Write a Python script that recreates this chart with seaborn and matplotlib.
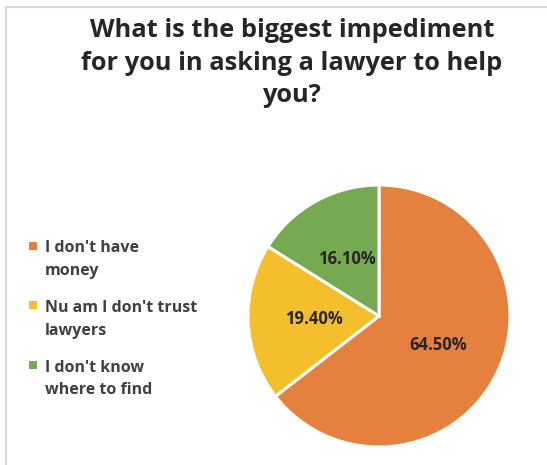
import matplotlib
matplotlib.use("Agg")
import matplotlib.pyplot as plt
import seaborn as sns
from matplotlib.patches import Patch, Rectangle
from matplotlib.lines import Line2D
from matplotlib.legend_handler import HandlerPatch

categories = ["I don't have\nmoney", "Nu am I don't trust\nlawyers", "I don't know\nwhere to find"]
values = [64.5, 19.4, 16.1]
colors = ["#E6803F", "#F5BE2D", "#75AA52"]
title = "What is the biggest impediment\nfor you in asking a lawyer to help\nyou?"

sns.set_theme(style="white")
plt.rcParams['font.family'] = ['Open Sans', 'DejaVu Sans']

fig = plt.figure(figsize=(5.47, 4.65), dpi=100)
W, H = 547, 465
r = 131
cx, cy = 379, 316
ax = fig.add_axes([(cx - r) / W, 1 - (cy + r) / H, 2 * r / W, 2 * r / H])
wedges, texts, autotexts = ax.pie(
    values, colors=colors, startangle=90, counterclock=False,
    autopct=lambda p: f"{p:.2f}%", pctdistance=0.5,
    wedgeprops=dict(edgecolor="white", linewidth=2.2),
    textprops=dict(fontsize=12, fontweight="bold", color="#262626"),
    radius=1.0,
)
ax.set_xlim(-1.0, 1.0)
ax.set_ylim(-1.0, 1.0)
ax.set_aspect("equal")

fig.text(292 / W, 1 - 63 / H, title, ha="center", va="center",
         fontsize=18.3, fontweight="bold", color="#262626", linespacing=1.4)


def top_square(legend, orig_handle, xdescent, ydescent, width, height, fontsize):
    s = 0.5 * fontsize
    return Rectangle((-xdescent + width - s, -ydescent + height - s + 0.3 * fontsize), s, s)


handles = [Patch(facecolor=c, edgecolor="none") for c in colors]
leg = fig.legend(handles, categories, loc="upper left",
                 bbox_to_anchor=(15 / W, 1 - 226 / H), frameon=False,
                 handlelength=0.5, handleheight=2.4,
                 handletextpad=0.45, labelspacing=1.32,
                 prop=dict(weight="bold", size=11.5),
                 handler_map={Patch: HandlerPatch(patch_func=top_square)})
for t in leg.get_texts():
    t.set_color("#404040")
    t.set_linespacing(1.55)

fig.add_artist(Line2D([6 / W, 6 / W], [0, 1 - 7 / H], color="#D9D9D9", lw=1.5))
fig.add_artist(Line2D([6 / W, 1], [1 - 7 / H, 1 - 7 / H], color="#D9D9D9", lw=1.5))

fig.savefig("out.png", dpi=100)
